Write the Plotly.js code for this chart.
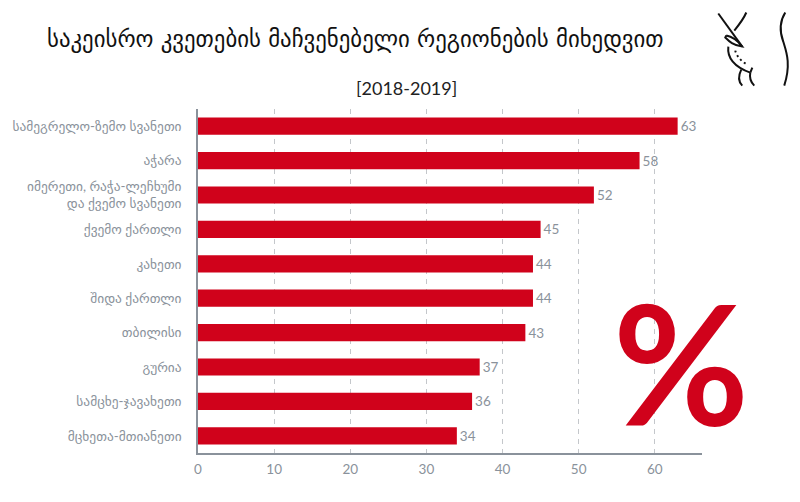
<!DOCTYPE html>
<html>
<head>
<meta charset="utf-8">
<script src="https://cdn.plot.ly/plotly-3.0.1.min.js"></script>
<style>
html, body { margin: 0; padding: 0; background: #fff; }
</style>
</head>
<body>
<div id="myDiv" style="width:800px;height:502px;"></div>
<script>
var regions = [
    'სამეგრელო-ზემო სვანეთი',
    'აჭარა',
    'იმერეთი, რაჭა-ლეჩხუმი<br>და ქვემო სვანეთი',
    'ქვემო ქართლი',
    'კახეთი',
    'შიდა ქართლი',
    'თბილისი',
    'გურია',
    'სამცხე-ჯავახეთი',
    'მცხეთა-მთიანეთი'
];
var rates = [63, 58, 52, 45, 44, 44, 43, 37, 36, 34];
var xTicks = [0, 10, 20, 30, 40, 50, 60];

var titleText = 'საკეისრო კვეთების მაჩვენებელი რეგიონების მიხედვით';
var subtitleText = '[2018-2019]';

var RED = '#d0021b';
var GREY = '#8a929b';
var W = 800;
var H = 502;

// icon lines, in page pixels
var iconPaths = [
    'M 718 14 L 742 47',
    'M 746 13 C 743 20 739 25 734 31',
    'M 726 36 L 725 38 C 729 42 733 46 742 47 C 738 42 732 37 726 36',
    'M 728 47 C 727 56 731 66 750 73',
    'M 752 68 L 750 73',
    'M 741 70 C 738 76 738 82 742 86',
    'M 750 73 C 749 78 751 83 754 86',
    'M 785 13 C 778 24 780 34 783 42 C 786 52 791 64 784 86'
];

function pxPath(d) {
    // page pixels to paper fractions
    let m = { l: 197.5, r: 98.3, t: 109.3, b: 49.4 };
    let isX = true;
    return d.split(' ').map(function (tok) {
        if (isNaN(tok)) {
            return tok;
        }
        let v = Number(tok);
        let out = isX ? (v - m.l) / (W - m.l - m.r) : (H - m.b - v) / (H - m.t - m.b);
        isX = !isX;
        return out.toFixed(4);
    }).join(' ');
}

var shapes = iconPaths.map(function (d) {
    return {
        type: 'path',
        xref: 'paper',
        yref: 'paper',
        path: pxPath(d),
        line: { color: '#111111', width: 2 }
    };
});
shapes.push({
    type: 'path',
    xref: 'paper',
    yref: 'paper',
    path: pxPath('M 735 51 C 736 56 741 62 747 65'),
    line: { color: '#111111', width: 2, dash: '2px,3px' }
});

var trace1 = {
    type: 'bar',
    orientation: 'h',
    x: rates,
    y: regions,
    marker: { color: RED },
    text: rates.map(String),
    textposition: 'outside',
    cliponaxis: false,
    textfont: { family: 'Lato, sans-serif', size: 13.5, color: GREY },
    hoverinfo: 'skip'
};

var layout = {
    width: W,
    height: H,
    margin: { l: 197.5, r: 98.3, t: 109.3, b: 49.4, pad: 0 },
    paper_bgcolor: '#ffffff',
    plot_bgcolor: '#ffffff',
    bargap: 0.5,
    showlegend: false,
    font: { family: 'Lato, "DejaVu Sans", sans-serif' },
    xaxis: {
        range: [0, 66.2],
        tickvals: xTicks,
        ticks: 'outside',
        ticklen: 3,
        tickcolor: 'rgba(0,0,0,0)',
        showgrid: true,
        gridcolor: '#c4c7cb',
        griddash: '5px,5px',
        gridwidth: 1,
        zeroline: false,
        showline: true,
        linecolor: GREY,
        linewidth: 1.5,
        tickfont: { family: 'Lato, sans-serif', size: 13.5, color: GREY }
    },
    yaxis: {
        autorange: 'reversed',
        type: 'category',
        ticks: 'outside',
        ticklen: 12,
        tickcolor: 'rgba(0,0,0,0)',
        showgrid: false,
        zeroline: false,
        showline: true,
        linecolor: GREY,
        linewidth: 1.5,
        tickfont: { family: 'Lato, "DejaVu Sans", sans-serif', size: 13.4, color: GREY }
    },
    shapes: shapes,
    annotations: [
        {
            text: titleText,
            xref: 'paper', yref: 'paper',
            x: (355.5 - 197.5) / (W - 197.5 - 98.3),
            y: (H - 49.4 - 40) / (H - 109.3 - 49.4),
            xanchor: 'center', yanchor: 'middle',
            showarrow: false,
            font: { family: '"DejaVu Sans", sans-serif', size: 22.8, color: '#111111' }
        },
        {
            text: subtitleText,
            xref: 'paper', yref: 'paper',
            x: (406 - 197.5) / (W - 197.5 - 98.3),
            y: (H - 49.4 - 88) / (H - 109.3 - 49.4),
            xanchor: 'center', yanchor: 'middle',
            showarrow: false,
            font: { family: 'Lato, sans-serif', size: 18, color: '#222222' }
        },
        {
            text: '%',
            xref: 'paper', yref: 'paper',
            x: (680.5 - 197.5) / (W - 197.5 - 98.3),
            y: (H - 49.4 - 361) / (H - 109.3 - 49.4),
            xanchor: 'center', yanchor: 'middle',
            showarrow: false,
            font: { family: 'Lato, sans-serif', size: 166, color: RED, weight: 700 }
        }
    ]
};
var config = {
    displayModeBar: false,
    responsive: false
};

Plotly.newPlot('myDiv', [trace1], layout, config);
</script>
</body>
</html>
